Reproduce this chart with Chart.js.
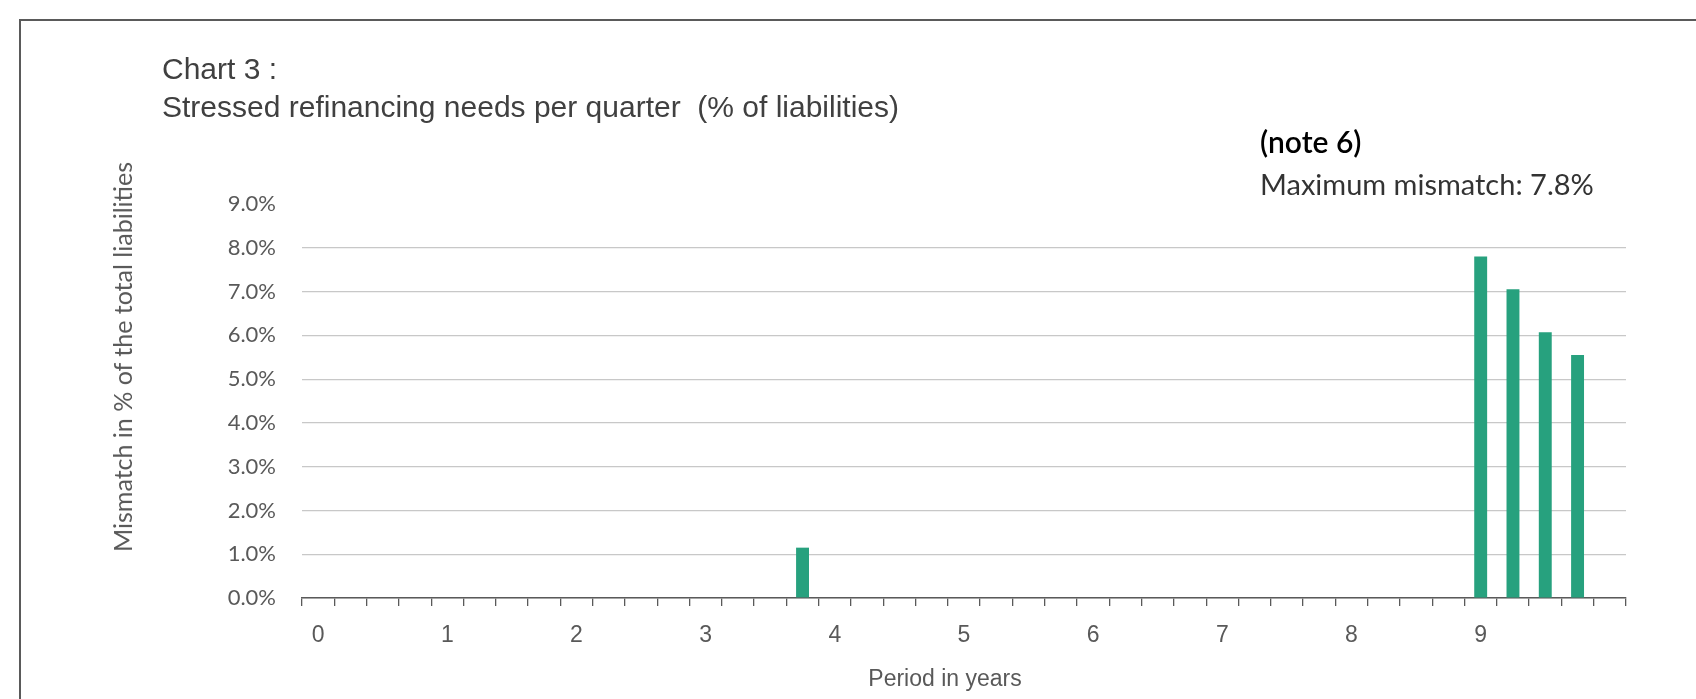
<!DOCTYPE html>
<html>
<head>
<meta charset="utf-8">
<script src="https://cdn.jsdelivr.net/npm/chart.js@4/dist/chart.umd.min.js"></script>
<style>
  html, body { margin: 0; padding: 0; background: #fff; }
  #wrap { position: relative; width: 1696px; height: 699px; overflow: hidden; }
  #frame { position: absolute; left: 19px; top: 19px; width: 2000px; height: 2000px; border: 2px solid #5a5a5a; }
  #chartBox { position: absolute; left: 0; top: 0; width: 1696px; height: 699px; }
  .title { position: absolute; left: 162px; top: 50px; font-family: "Liberation Sans Narrow", sans-serif; font-size: 30px; line-height: 38px; color: #404040; }
  .note { position: absolute; left: 1260px; top: 120px; font-family: Lato, sans-serif; font-size: 29px; line-height: 42px; color: #333; }
  .note b { color: #000; font-weight: 600; font-size: 30px; }
  .axisTitle { position: absolute; white-space: nowrap; color: #595959; transform: translate(-50%, -50%); }
  #yTitle { left: 122px; top: 357px; font-family: Lato, sans-serif; font-size: 25px; transform: translate(-50%, -50%) rotate(-90deg); }
  #xTitle { left: 945px; top: 678px; font-family: "Liberation Sans Narrow", sans-serif; font-size: 23px; }
</style>
</head>
<body>
<div id="wrap">
  <div id="frame"></div>
  <div id="chartBox"><canvas id="chart3"></canvas></div>
  <div class="title">Chart 3 :<br>Stressed refinancing needs per quarter&nbsp; (% of liabilities)</div>
  <div class="note"><b>(note 6)</b><br>Maximum mismatch: 7.8%</div>
  <div class="axisTitle" id="yTitle">Mismatch in % of the total liabilities</div>
  <div class="axisTitle" id="xTitle">Period in years</div>
</div>
<script>
// one category per quarter, year number shown on the first quarter of each year
const quarterLabels = [
  '0', '', '', '', '1', '', '', '', '2', '', '', '', '3', '', '', '',
  '4', '', '', '', '5', '', '', '', '6', '', '', '', '7', '', '', '',
  '8', '', '', '', '9', '', '', '', ''
];
// stressed mismatch in % of total liabilities
const mismatch = [
  0, 0, 0, 0, 0, 0, 0, 0, 0, 0, 0, 0, 0, 0, 0, 1.15,
  0, 0, 0, 0, 0, 0, 0, 0, 0, 0, 0, 0, 0, 0, 0, 0,
  0, 0, 0, 0, 7.8, 7.05, 6.07, 5.55, 0
];
const yTicks = [0, 1, 2, 3, 4, 5, 6, 7, 8, 9];

const narrow = "'Liberation Sans Narrow', sans-serif";
const ctx = document.getElementById('chart3');

new Chart(ctx, {
  type: 'bar',
  data: {
    labels: quarterLabels,
    datasets: [{
      data: mismatch,
      backgroundColor: '#27a17e',
      borderWidth: 0,
      barPercentage: 0.4,
      categoryPercentage: 1
    }]
  },
  options: {
    responsive: true,
    maintainAspectRatio: false,
    animation: false,
    layout: { padding: { left: 105, right: 70, top: 204, bottom: 4 } },
    plugins: {
      legend: { display: false },
      tooltip: { enabled: false }
    },
    scales: {
      x: {
        afterFit: (s) => { s.height = 97; },
        grid: {
          drawOnChartArea: false,
          drawTicks: true,
          tickLength: 8,
          color: '#5a5a5a',
          lineWidth: 1.3
        },
        border: { color: '#5a5a5a', width: 1.6 },
        ticks: {
          autoSkip: false,
          maxRotation: 0,
          padding: 16,
          color: '#595959',
          font: { family: narrow, size: 23 }
        }
      },
      y: {
        min: 0,
        max: 9,
        afterFit: (s) => { s.width = 197; },
        afterBuildTicks: (s) => { s.ticks = yTicks.map(v => ({ value: v })); },
        grid: {
          drawTicks: false,
          color: (c) => (c.tick && c.tick.value === 9) ? 'rgba(0,0,0,0)' : '#c8c8c8',
          lineWidth: 1.2
        },
        border: { display: false },
        ticks: {
          padding: 26,
          color: '#595959',
          font: { family: 'Lato, sans-serif', size: 22 },
          callback: (v) => Number(v).toFixed(1) + '%'
        }
      }
    }
  }
});
</script>
</body>
</html>
